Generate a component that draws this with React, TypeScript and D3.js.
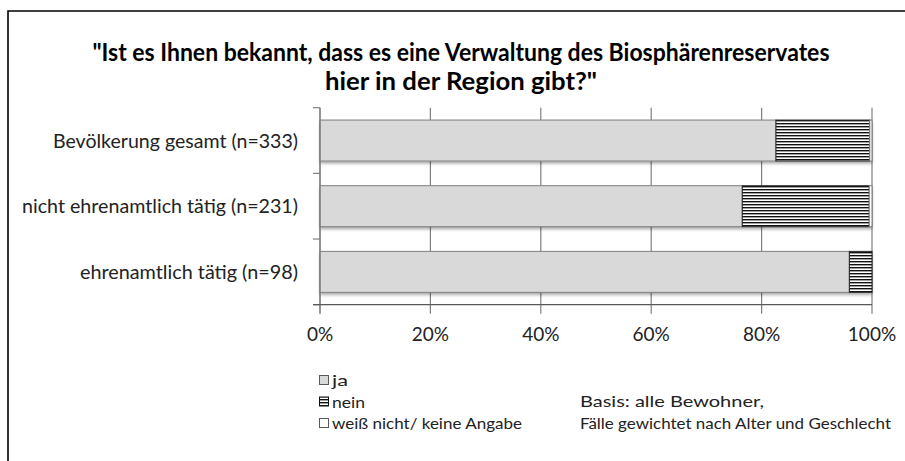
import React from "react";
import * as d3 from "d3";

const titleLines = [
  "\"Ist es Ihnen bekannt, dass es eine Verwaltung des Biosphärenreservates",
  "hier in der Region gibt?\"",
];
const categories = [
  "Bevölkerung gesamt (n=333)",
  "nicht ehrenamtlich tätig (n=231)",
  "ehrenamtlich tätig (n=98)",
];
const seriesNames = ["ja", "nein", "weiß nicht/ keine Angabe"];
const jaValues = [82.6, 76.5, 95.9];
const neinValues = [17.0, 23.0, 4.1];
const weissValues = [0.4, 0.5, 0.0];
const xTicks = [0, 20, 40, 60, 80, 100];
const noteLines = ["Basis: alle Bewohner,", "Fälle gewichtet nach Alter und Geschlecht"];

const W = 905;
const H = 461;
const FONT = "Lato, 'Open Sans', sans-serif";

// layout constants (styling, not data)
const titleLen = [737, 272];
const labelLen = [245, 276, 218];
const legendLen = [16, 33, 190];
const noteLen = [184, 311];

export default function App() {
  const x = d3.scaleLinear().domain([0, 100]).range([320, 872]);
  const y = d3
    .scaleBand<string>()
    .domain(categories)
    .range([107.7, 304.7])
    .paddingInner(0.376)
    .paddingOuter(0.188);

  const rows = categories.map((c, i) => {
    const stack = [jaValues[i], neinValues[i], weissValues[i]];
    let acc = 0;
    const segs = stack.map((v) => {
      const s = { x0: acc, x1: acc + v };
      acc += v;
      return s;
    });
    return { c, segs };
  });

  const bw = y.bandwidth();
  const step = y.step();
  const boundaries = d3.range(categories.length + 1).map((i) => 107.7 + i * step);
  const axisY = 304.7;

  return (
    <svg
      width={W}
      height={H}
      style={{ position: "absolute", left: 0, top: 0, background: "#fff" }}
      fontFamily={FONT}
    >
      <defs>
        <pattern id="stripes" width="4" height="3" patternUnits="userSpaceOnUse">
          <rect width="4" height="3" fill="#ffffff" />
          <rect width="4" height="1.4" fill="#111111" />
        </pattern>
        <filter id="shadow" x="-5%" y="-20%" width="110%" height="160%">
          <feDropShadow dx="0" dy="2.5" stdDeviation="1.4" floodColor="#000" floodOpacity="0.35" />
        </filter>
      </defs>
      <rect width={W} height={H} fill="#fff" />
      {/* outer frame */}
      <path d={`M8,${H} L8,11 L${W},11`} fill="none" stroke="#000" strokeWidth={1.6} />

      {/* title */}
      {titleLines.map((t, i) => (
        <text
          key={i}
          x={461}
          y={61 + i * 29}
          textAnchor="middle"
          fontWeight="bold"
          fontSize={24}
          textLength={titleLen[i]}
          lengthAdjust="spacingAndGlyphs"
          fill="#000"
        >
          {t}
        </text>
      ))}

      {/* gridlines */}
      {xTicks.map((t) => (
        <line
          key={t}
          x1={x(t)}
          x2={x(t)}
          y1={107.7}
          y2={axisY + 9}
          stroke="#7f7f7f"
          strokeWidth={1.2}
        />
      ))}

      {/* bars */}
      {rows.map((r, i) => {
        const y0 = y(r.c)!;
        return (
          <g key={i}>
            <rect
              x={x(0)}
              y={y0}
              width={x(r.segs[2].x1) - x(0)}
              height={bw}
              fill="#d9d9d9"
              filter="url(#shadow)"
            />
            <rect
              x={x(r.segs[0].x0)}
              y={y0}
              width={x(r.segs[0].x1) - x(r.segs[0].x0)}
              height={bw}
              fill="#d9d9d9"
              stroke="#7f7f7f"
              strokeWidth={1}
            />
            <rect
              x={x(r.segs[1].x0)}
              y={y0}
              width={x(r.segs[1].x1) - x(r.segs[1].x0)}
              height={bw}
              fill="url(#stripes)"
              stroke="#222"
              strokeWidth={1}
            />
            {r.segs[2].x1 - r.segs[2].x0 > 0 && (
              <rect
                x={x(r.segs[2].x0)}
                y={y0}
                width={x(r.segs[2].x1) - x(r.segs[2].x0)}
                height={bw}
                fill="#ffffff"
                stroke="#7f7f7f"
                strokeWidth={1}
              />
            )}
          </g>
        );
      })}

      {/* axes */}
      <line x1={x(0)} x2={x(0)} y1={107.7} y2={axisY + 9} stroke="#7f7f7f" strokeWidth={1.2} />
      {boundaries.map((b, i) => (
        <line key={i} x1={313} x2={x(0)} y1={b} y2={b} stroke="#7f7f7f" strokeWidth={1.2} />
      ))}
      <line x1={313} x2={x(100)} y1={axisY} y2={axisY} stroke="#595959" strokeWidth={1.2} />

      {/* category labels */}
      {categories.map((c, i) => (
        <text
          key={c}
          x={298}
          y={y(c)! + bw / 2 + 7}
          textAnchor="end"
          fontSize={19}
          fill="#222"
          textLength={labelLen[i]}
          lengthAdjust="spacingAndGlyphs"
        >
          {c}
        </text>
      ))}

      {/* tick labels */}
      {xTicks.map((t) => (
        <text key={t} x={x(t)} y={341} textAnchor="middle" fontSize={19} fill="#222">
          {t + "%"}
        </text>
      ))}

      {/* legend */}
      {seriesNames.map((s, i) => (
        <g key={s}>
          <rect
            x={319.5}
            y={375.5 + i * 21.5}
            width={9}
            height={9}
            fill={i === 0 ? "#d9d9d9" : i === 1 ? "url(#stripes)" : "#fff"}
            stroke={i === 1 ? "#111" : "#595959"}
            strokeWidth={1}
          />
          <text
            x={332}
            y={386 + i * 21.5}
            fontSize={16}
            fill="#222"
            textLength={legendLen[i]}
            lengthAdjust="spacingAndGlyphs"
          >
            {s}
          </text>
        </g>
      ))}

      {/* note */}
      {noteLines.map((n, i) => (
        <text
          key={i}
          x={580}
          y={407 + i * 21.5}
          fontSize={16}
          fill="#222"
          textLength={noteLen[i]}
          lengthAdjust="spacingAndGlyphs"
        >
          {n}
        </text>
      ))}
    </svg>
  );
}
